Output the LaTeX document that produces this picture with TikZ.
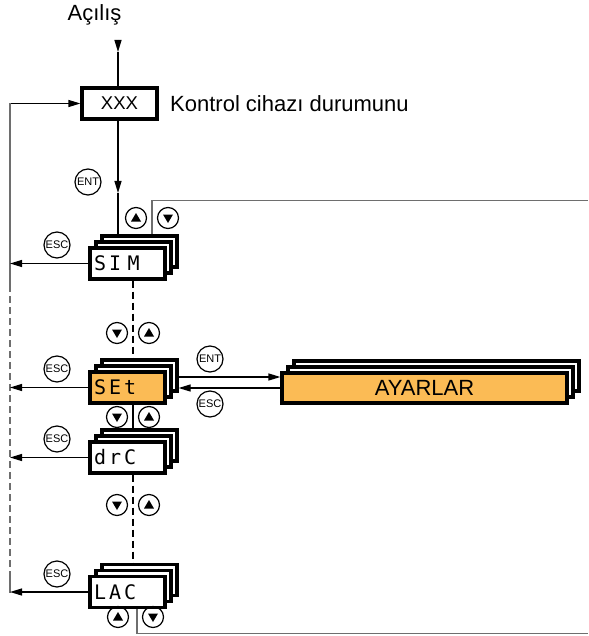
\documentclass[tikz,border=0pt]{standalone}
\usepackage{fontspec}
\setmainfont{Liberation Sans}
\newfontfamily\lcdfont[LetterSpace=15]{DejaVu Sans Mono}
\usetikzlibrary{arrows.meta,calc}
\definecolor{cOrange}{HTML}{FBBB55}
\definecolor{cLine}{HTML}{6E6E6E}
\tikzset{
  back/.style={draw, line width=3.2pt, fill=white, minimum width=75pt,
               minimum height=31pt, inner sep=0pt},
  lcd/.style={back, inner xsep=4pt, text width=67pt, align=left,
              font=\lcdfont\fontsize{20pt}{22pt}\selectfont},
  lcdO/.style={lcd, fill=cOrange},
  wide/.style={minimum width=285pt, minimum height=30pt},
  panel/.style={back, wide, fill=cOrange, font=\fontsize{22pt}{24pt}\selectfont},
  xxxbox/.style={back, font=\fontsize{18.5pt}{20pt}\selectfont},
  lbl/.style={inner sep=0pt, font=\fontsize{22pt}{24pt}\selectfont},
  key/.style={circle, draw, line width=1.2pt, minimum size=26pt, inner sep=0pt,
              font=\fontsize{11pt}{12pt}\selectfont},
  btn/.style={circle, draw, line width=1.2pt, minimum size=21pt, inner sep=0pt},
  up/.style={btn, path picture={\fill ([shift={(-5pt,-3.5pt)}]path picture bounding box.center)
             -- ++(10pt,0pt) -- ++(-5pt,8.5pt) -- cycle;}},
  dn/.style={btn, path picture={\fill ([shift={(-5pt,3.5pt)}]path picture bounding box.center)
             -- ++(10pt,0pt) -- ++(-5pt,-8.5pt) -- cycle;}},
  ar/.style={-{Triangle[length=12pt,width=7pt]}, line width=1.2pt},
  ln/.style={line width=1.2pt},
  gline/.style={cLine, line width=1.4pt},
  dsh/.style={dash pattern=on 7pt off 4pt}
}
\begin{document}
\begin{tikzpicture}[x=1pt, y=-1pt]
\useasboundingbox (0,0) rectangle (588,636);
% power on and status box
\node[lbl, anchor=base] (pwr) at (94.5,21) {Açılış};
\coordinate (pwrtop) at (118,40);
\coordinate (pwrtip) at (118,52);
\node[xxxbox] (xxx) at (119.5,103.5) {XXX};
\node[lbl, anchor=base west] (state) at (170,111.5) {Kontrol cihazı durumunu};
\draw[ar] (pwrtop) -- (pwrtip);
\draw[ln] (pwrtip) -- (xxx.north -| pwrtip);
% menu stacks (two back copies each)
\foreach \n/\y in {sim/263.5, set/387.5, drc/457.5, lac/592}
  \foreach \d/\k in {12/b, 6/m}
    \node[back] (\n\k) at (127.5+\d,\y-\d) {};
\node[lcd] (sim) at (127.5,263.5) {SI M};
\node[lcdO] (set) at (127.5,387.5) {SEt};
\node[lcd] (drc) at (127.5,457.5) {drC};
\node[lcd] (lac) at (127.5,592) {LAC};
\foreach \d/\k in {12/b, 6/m}
  \node[back, wide] (ayar\k) at (424.5+\d,388-\d) {};
\node[panel] (ayar) at (424.5,388) {AYARLAR};
% ENT into the menu
\coordinate (enttip) at (118,193);
\draw[ar] (xxx.south -| enttip) -- (enttip);
\draw[ln] (enttip) -- (enttip |- simb.north);
\node[key] (ent1) at (88,182) {ENT};
% up/down between the menus
\draw[ln, dsh] ([xshift=5.5pt]sim.south) -- ([xshift=5.5pt]sim.south |- setb.north);
\draw[ln] ([xshift=5.5pt]set.south) -- ([xshift=5.5pt]set.south |- drcb.north);
\draw[ln, dsh] ([xshift=5.5pt]drc.south) -- ([xshift=5.5pt]drc.south |- lacb.north);
\foreach \y in {333,417,505}{
  \node[dn] (dn\y) at (117,\y) {};
  \node[up] (up\y) at (149,\y) {};
}
\node[up] (simup) at (136,218) {};
\node[dn] (simdn) at (168,218) {};
\node[up] (lacup) at (118,617) {};
\node[dn] (lacdn) at (153,617) {};
% wrap-around lines
\coordinate (rtop) at (588,200.5);
\coordinate (rbot) at (588,633.5);
\draw[gline] ([xshift=12.5pt]simb.north) |- (rtop);
\draw[gline] ([xshift=9.5pt]lac.south) |- (rbot);
% ESC back to status
\coordinate (ltop) at (10,103.5);
\coordinate (lda) at (10,285);
\coordinate (ldb) at (10,578);
\coordinate (lbot) at (10,593);
\draw[ar] (ltop) -- (xxx.west);
\draw[gline] (ltop) -- (lda);
\draw[gline, dsh] (lda) -- (ldb);
\draw[gline] (ldb) -- (lbot);
\foreach \n/\ey in {sim/245, set/369, drc/439, lac/574}{
  \draw[ar] (\n.west) -- (\n.west -| ltop);
  \node[key] (esc\n) at (57,\ey) {ESC};
}
% settings
\draw[ar] ([yshift=-1.5pt]setb.east) -- ([yshift=11pt]ayar.west);
\node[key] (ent2) at (210,359) {ENT};
\draw[ar] (ayar.west) -- (ayar.west -| setb.east);
\node[key] (esc2) at (210,404) {ESC};
\end{tikzpicture}
\end{document}
